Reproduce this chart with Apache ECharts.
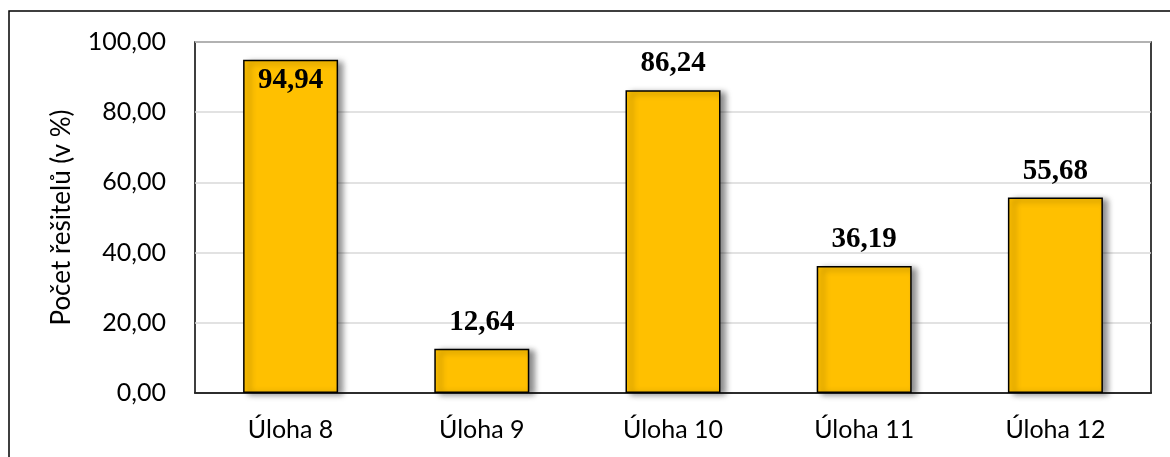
<!DOCTYPE html>
<html>
<head>
<meta charset="utf-8">
<style>
    html, body { margin: 0; padding: 0; background: #fff; }
    #main { width: 1170px; height: 457px; }
</style>
<script src="https://cdn.jsdelivr.net/npm/echarts@6/dist/echarts.min.js"></script>
</head>
<body>
<div id="main"></div>
<script>
    // úlohy a podíl řešitelů
    var categories = ['Úloha 8', 'Úloha 9', 'Úloha 10', 'Úloha 11', 'Úloha 12'];
    var values = [94.94, 12.64, 86.24, 36.19, 55.68];
    var yTicks = [0, 20, 40, 60, 80, 100];

    function fmt(v) {
        return v.toFixed(2).replace('.', ',');
    }

    var myChart = echarts.init(document.getElementById('main'));

    var barData = values.map(function (v, i) {
        var item = { value: v };
        // nejvyšší popisek se nevejde nad sloupec
        if (v > 90) {
            item.label = { position: 'insideTop', distance: 6 };
        }
        return item;
    });

    var option = {
        animation: false,
        graphic: [
            {
                type: 'rect',
                shape: { x: 9, y: 11, width: 1300, height: 600 },
                style: { fill: 'none', stroke: '#000', lineWidth: 1.5 },
                silent: true
            }
        ],
        grid: {
            left: 195,
            right: 19,
            top: 42,
            bottom: 64,
            show: true,
            borderColor: '#000',
            borderWidth: 1.5
        },
        xAxis: {
            type: 'category',
            data: categories,
            axisLine: { lineStyle: { color: '#000', width: 1.5 } },
            axisTick: { show: false },
            axisLabel: {
                color: '#000',
                fontFamily: 'Lato',
                fontSize: 25,
                margin: 24
            }
        },
        yAxis: {
            type: 'value',
            min: yTicks[0],
            max: yTicks[yTicks.length - 1],
            interval: 20,
            name: 'Počet řešitelů (v %)',
            nameLocation: 'middle',
            nameGap: 120,
            nameTextStyle: {
                color: '#000',
                fontFamily: 'Lato',
                fontSize: 26
            },
            axisLine: { show: false },
            axisTick: { show: false },
            splitLine: { lineStyle: { color: '#d9d9d9', width: 1.5 } },
            axisLabel: {
                color: '#000',
                fontFamily: 'Lato',
                fontSize: 25,
                margin: 29,
                formatter: fmt
            }
        },
        series: [
            {
                type: 'bar',
                data: barData,
                barWidth: 95,
                itemStyle: {
                    color: '#ffc000',
                    borderColor: '#000',
                    borderWidth: 1.5,
                    shadowColor: 'rgba(0,0,0,0.45)',
                    shadowBlur: 6,
                    shadowOffsetX: 5,
                    shadowOffsetY: 2
                },
                label: {
                    show: true,
                    position: 'top',
                    distance: 12,
                    color: '#000',
                    fontFamily: 'Liberation Serif',
                    fontWeight: 'bold',
                    fontSize: 29,
                    formatter: function (p) { return fmt(p.value); }
                }
            }
        ]
    };
    myChart.setOption(option);
</script>
</body>
</html>
